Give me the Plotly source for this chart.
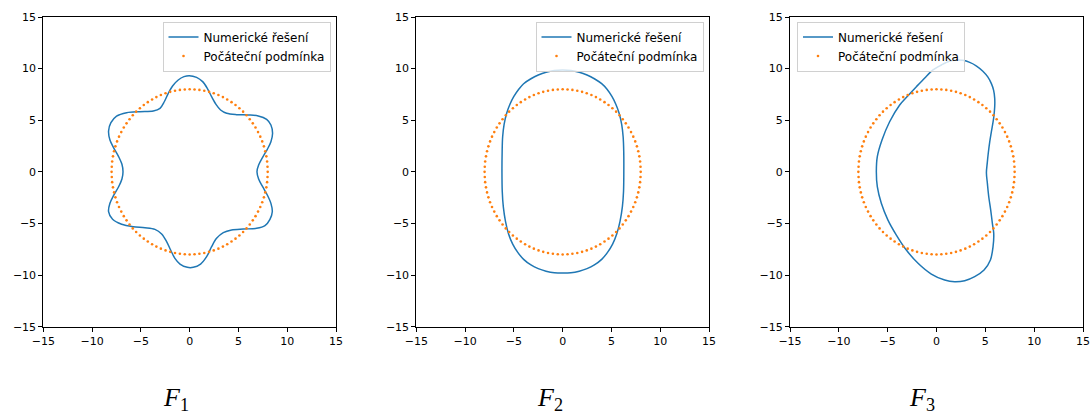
import plotly.graph_objects as go

# Initial condition: circle of radius 8 sampled at 100 points
init_x = [8.00, 7.98, 7.94, 7.86, 7.75, 7.61, 7.44, 7.24, 7.01, 6.75, 6.47, 6.16, 5.83, 5.48, 5.10, 4.70,
          4.29, 3.85, 3.41, 2.95, 2.47, 1.99, 1.50, 1.00, 0.50, 0.00,
          -0.50, -1.00, -1.50, -1.99, -2.47, -2.95, -3.41, -3.85, -4.29, -4.70, -5.10, -5.48, -5.83,
          -6.16, -6.47, -6.75, -7.01, -7.24, -7.44, -7.61, -7.75, -7.86, -7.94, -7.98, -8.00,
          -7.98, -7.94, -7.86, -7.75, -7.61, -7.44, -7.24, -7.01, -6.75, -6.47, -6.16, -5.83, -5.48,
          -5.10, -4.70, -4.29, -3.85, -3.41, -2.95, -2.47, -1.99, -1.50, -1.00, -0.50, 0.00,
          0.50, 1.00, 1.50, 1.99, 2.47, 2.95, 3.41, 3.85, 4.29, 4.70, 5.10, 5.48, 5.83, 6.16, 6.47,
          6.75, 7.01, 7.24, 7.44, 7.61, 7.75, 7.86, 7.94, 7.98]
init_y = [0.00, 0.50, 1.00, 1.50, 1.99, 2.47, 2.95, 3.41, 3.85, 4.29, 4.70, 5.10, 5.48, 5.83, 6.16, 6.47,
          6.75, 7.01, 7.24, 7.44, 7.61, 7.75, 7.86, 7.94, 7.98, 8.00,
          7.98, 7.94, 7.86, 7.75, 7.61, 7.44, 7.24, 7.01, 6.75, 6.47, 6.16, 5.83, 5.48, 5.10, 4.70,
          4.29, 3.85, 3.41, 2.95, 2.47, 1.99, 1.50, 1.00, 0.50, 0.00,
          -0.50, -1.00, -1.50, -1.99, -2.47, -2.95, -3.41, -3.85, -4.29, -4.70, -5.10, -5.48, -5.83,
          -6.16, -6.47, -6.75, -7.01, -7.24, -7.44, -7.61, -7.75, -7.86, -7.94, -7.98, -8.00,
          -7.98, -7.94, -7.86, -7.75, -7.61, -7.44, -7.24, -7.01, -6.75, -6.47, -6.16, -5.83, -5.48,
          -5.10, -4.70, -4.29, -3.85, -3.41, -2.95, -2.47, -1.99, -1.50, -1.00, -0.50]

# Numerical solution for F1
f1_x = [-0.04, 0.71, 1.33, 1.81, 2.25, 2.70, 3.17, 3.79, 4.81, 6.01, 7.03, 7.89, 8.33, 8.50, 8.33, 7.96,
        7.48, 7.07, 6.90, 7.07, 7.48, 7.96, 8.33, 8.47, 8.23, 7.72, 6.86, 5.49, 4.30, 3.45, 2.76, 2.25,
        1.74, 1.12, 0.37, -0.24, -0.99, -1.51, -1.95, -2.36, -2.87, -3.56, -4.58, -5.78, -6.97, -7.90,
        -8.31, -8.17, -7.76, -7.28, -6.94, -6.83, -6.94, -7.28, -7.76, -8.17, -8.31, -8.07, -7.49,
        -6.46, -5.10, -3.73, -3.04, -2.60, -2.19, -1.75, -1.17, -0.58, -0.04]
f1_y = [9.32, 9.15, 8.74, 8.09, 7.28, 6.54, 5.99, 5.67, 5.54, 5.51, 5.42, 5.09, 4.54, 3.73, 2.92, 2.18,
        1.41, 0.66, 0.02, -0.69, -1.44, -2.24, -3.05, -3.86, -4.60, -5.21, -5.47, -5.54, -5.63, -5.89,
        -6.44, -7.25, -8.22, -8.93, -9.25, -9.25, -8.93, -8.38, -7.57, -6.76, -6.02, -5.57, -5.41,
        -5.31, -5.08, -4.60, -3.86, -3.05, -2.24, -1.44, -0.69, 0.02, 0.73, 1.47, 2.28, 3.08, 3.96,
        4.76, 5.40, 5.73, 5.83, 5.89, 6.15, 6.79, 7.61, 8.32, 8.90, 9.22, 9.32]

# Numerical solution for F2
f2_x = [0.00, 0.85, 1.70, 2.50, 3.25, 4.00, 4.55, 5.05, 5.45, 5.78, 6.05, 6.20, 6.26, 6.27, 6.24, 6.12,
        5.88, 5.55, 5.12, 4.60, 4.00, 3.25, 2.50, 1.70, 0.85, 0.00,
        -0.85, -1.70, -2.50, -3.25, -4.00, -4.60, -5.12, -5.55, -5.86, -6.08, -6.19, -6.22, -6.20,
        -6.15, -6.00, -5.73, -5.40, -5.00, -4.50, -4.00, -3.25, -2.50, -1.70, -0.85, 0.00]
f2_y = [9.87, 9.82, 9.65, 9.38, 9.02, 8.54, 8.00, 7.30, 6.55, 5.70, 4.60, 3.40, 2.00, 0.02, -1.90,
        -3.40, -4.80, -6.00, -7.00, -7.80, -8.48, -9.02, -9.38, -9.62, -9.77, -9.80,
        -9.77, -9.62, -9.38, -9.02, -8.48, -7.80, -7.00, -6.00, -4.80, -3.40, -1.90, 0.02, 2.00, 3.40,
        4.60, 5.70, 6.55, 7.30, 8.00, 8.54, 9.02, 9.38, 9.65, 9.82, 9.87]

# Numerical solution for F3
f3_x = [5.11, 5.20, 5.30, 5.45, 5.62, 5.85, 5.96, 5.96, 5.85, 5.62, 5.25, 4.75, 4.10, 3.40, 2.70, 2.00,
        1.30, 0.50, -0.36, -1.20, -2.06, -2.90, -3.77, -4.80, -5.58, -6.06, -6.16, -6.06, -5.65, -4.97,
        -4.11, -3.09, -1.89, -0.53, 0.84, 1.86, 2.89, 3.91, 4.87, 5.52, 5.79, 5.86, 5.72, 5.55, 5.35,
        5.21, 5.11]
f3_y = [-0.08, 0.90, 1.80, 2.90, 3.89, 5.20, 6.30, 7.12, 7.90, 8.55, 9.20, 9.75, 10.25, 10.60, 10.80,
        10.84, 10.72, 10.35, 9.87, 9.10, 8.25, 7.40, 6.48, 4.85, 3.08, 1.47, 0.02, -1.44, -3.05, -4.67,
        -6.12, -7.57, -8.86, -9.90, -10.48, -10.64, -10.54, -10.15, -9.51, -8.54, -7.25, -5.96, -4.99,
        -3.70, -2.41, -1.12, -0.08]

panel_labels = ["<i>F</i><sub>1</sub>", "<i>F</i><sub>2</sub>", "<i>F</i><sub>3</sub>"]
tick_vals = [-15, -10, -5, 0, 5, 10, 15]
series_names = ["Numerické řešení", "Počáteční podmínka"]

W, H = 1090, 417
BLUE, ORANGE = "#1f77b4", "#ff7f0e"

# pixel layout of the three axes boxes
x_doms = [(43.3, 336.0), (416.3, 709.0), (790.0, 1083.0)]
y_top, y_bot = 17.0, 326.7
label_x = [176, 549.5, 922]
legend_pos = [(330.5, "right"), (703.5, "right"), (797.0, "left")]

fig = go.Figure()
curves = [(f1_x, f1_y), (f2_x, f2_y), (f3_x, f3_y)]
legend_names = ["legend", "legend2", "legend3"]

for i, (cx, cy) in enumerate(curves):
    ax = "" if i == 0 else str(i + 1)
    fig.add_trace(go.Scatter(
        x=cx, y=cy, mode="lines", name=series_names[0],
        line=dict(color=BLUE, width=1.5, shape="spline", smoothing=0.9),
        xaxis="x" + ax, yaxis="y" + ax, legend=legend_names[i]))
    fig.add_trace(go.Scatter(
        x=init_x, y=init_y, mode="markers", name=series_names[1],
        marker=dict(color=ORANGE, size=2.6, line=dict(width=0)),
        xaxis="x" + ax, yaxis="y" + ax, legend=legend_names[i]))

axis_common = dict(
    range=[-15, 15], tickvals=tick_vals, ticks="outside", ticklen=4, tickwidth=1,
    tickcolor="black", showline=True, linecolor="black", linewidth=1, mirror=True,
    showgrid=False, zeroline=False, automargin=False,
    tickfont=dict(family="DejaVu Sans", size=11, color="black"),
)

layout = dict(
    width=W, height=H, margin=dict(l=0, r=0, t=0, b=0, autoexpand=False),
    paper_bgcolor="white", plot_bgcolor="white", showlegend=True,
)
for i in range(3):
    ax = "" if i == 0 else str(i + 1)
    xd = [x_doms[i][0] / W, x_doms[i][1] / W]
    yd = [1 - y_bot / H, 1 - y_top / H]
    layout["xaxis" + ax] = dict(axis_common, domain=xd, anchor="y" + ax)
    layout["yaxis" + ax] = dict(axis_common, domain=yd, anchor="x" + ax)
    lx, anchor = legend_pos[i]
    layout[legend_names[i]] = dict(
        x=lx / W, y=1 - 21.5 / H, xanchor=anchor, yanchor="top",
        bgcolor="rgba(255,255,255,0.8)", bordercolor="#d0d0d0", borderwidth=1,
        font=dict(family="DejaVu Sans", size=12, color="black"),
        tracegroupgap=0, itemwidth=30,
    )

fig.update_layout(**layout)

for i, txt in enumerate(panel_labels):
    fig.add_annotation(
        text=txt, xref="paper", yref="paper", x=label_x[i] / W, y=1 - 399 / H,
        xanchor="center", yanchor="middle", showarrow=False,
        font=dict(family="Liberation Serif", size=26, color="black"))

fig.write_html("out.html")
